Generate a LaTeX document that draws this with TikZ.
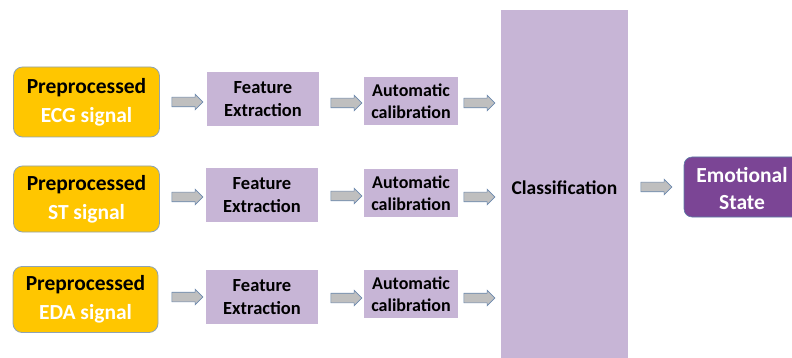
\documentclass[tikz,border=0pt]{standalone}
\usepackage{fontspec}
\setmainfont{Carlito}
\usetikzlibrary{shapes.arrows}
\definecolor{ylw}{HTML}{FFC600}
\definecolor{ylwline}{HTML}{8FA3B5}
\definecolor{lav}{HTML}{C7B5D6}
\definecolor{dpur}{HTML}{7B4595}
\definecolor{dpurline}{HTML}{5B7FA8}
\definecolor{agray}{HTML}{BFBFBF}
\definecolor{aline}{HTML}{6A88AE}
\tikzset{
  srcbox/.style={draw=ylwline, line width=0.8pt, fill=ylw, rounded corners=9pt, minimum width=146pt, align=center, font=\bfseries\fontsize{21.5}{29}\selectfont, inner sep=0pt},
  featbox/.style={fill=lav, minimum width=112pt, minimum height=54pt, align=center, font=\bfseries\fontsize{18.5}{22.5}\selectfont, inner sep=0pt},
  calbox/.style={fill=lav, minimum width=94pt, minimum height=48pt, align=center, font=\bfseries\fontsize{18}{22}\selectfont, inner sep=0pt},
  barrow/.style={single arrow, draw=aline, fill=agray, line width=0.6pt, minimum height=31pt, inner sep=4.5pt, single arrow head extend=3pt, single arrow head indent=0pt},
}
\begin{document}
\begin{tikzpicture}[x=1pt,y=-1pt]
\useasboundingbox (0,0) rectangle (792,358);
\begin{scope}
\clip (0,0) rectangle (792,358);
% source boxes
\node[srcbox, minimum height=70pt] (ecg) at (86.5,102) {Preprocessed\\\textcolor{white}{ECG signal}};
\node[srcbox, minimum height=66pt] (st) at (86.5,199) {Preprocessed\\\textcolor{white}{ST signal}};
\node[srcbox, minimum height=66pt, minimum width=145pt] (eda) at (85.5,299.5) {Preprocessed\\\textcolor{white}{EDA signal}};
% feature boxes
\node[featbox] (f1) at (263,99) {Feature\\Extraction};
\node[featbox] (f2) at (262,195) {Feature\\Extraction};
\node[featbox] (f3) at (262,297) {Feature\\Extraction};
% calibration boxes
\node[calbox] (c1) at (411,101) {Automatic\\calibration};
\node[calbox] (c2) at (411,193) {Automatic\\calibration};
\node[calbox] (c3) at (411,294) {Automatic\\calibration};
% classification
\node[fill=lav, minimum width=127pt, minimum height=348pt, inner sep=0pt,
  label={[font=\bfseries\fontsize{19.5}{24}\selectfont, yshift=-4pt]center:Classification}] (cls) at (564.5,184) {};
% emotional state
\node[draw=dpurline, line width=0.6pt, fill=dpur, rounded corners=8pt, minimum width=116pt, minimum height=60pt, inner sep=0pt,
  label={[align=center, text=white, font=\bfseries\fontsize{21.5}{27}\selectfont, yshift=-2pt]center:Emotional\\State}] (emo) at (742,187) {};
% arrows
\node[barrow] (a1) at (185,102) {};
\node[barrow] (a2) at (185,197) {};
\node[barrow] (a3) at (185,297) {};
\node[barrow] (b1) at (344,103) {};
\node[barrow] (b2) at (344,196) {};
\node[barrow] (b3) at (344,298) {};
\node[barrow] (d1) at (477,103) {};
\node[barrow] (d2) at (477,197) {};
\node[barrow] (d3) at (477,298) {};
\node[barrow] (e1) at (654,187) {};
\end{scope}
\end{tikzpicture}
\end{document}
